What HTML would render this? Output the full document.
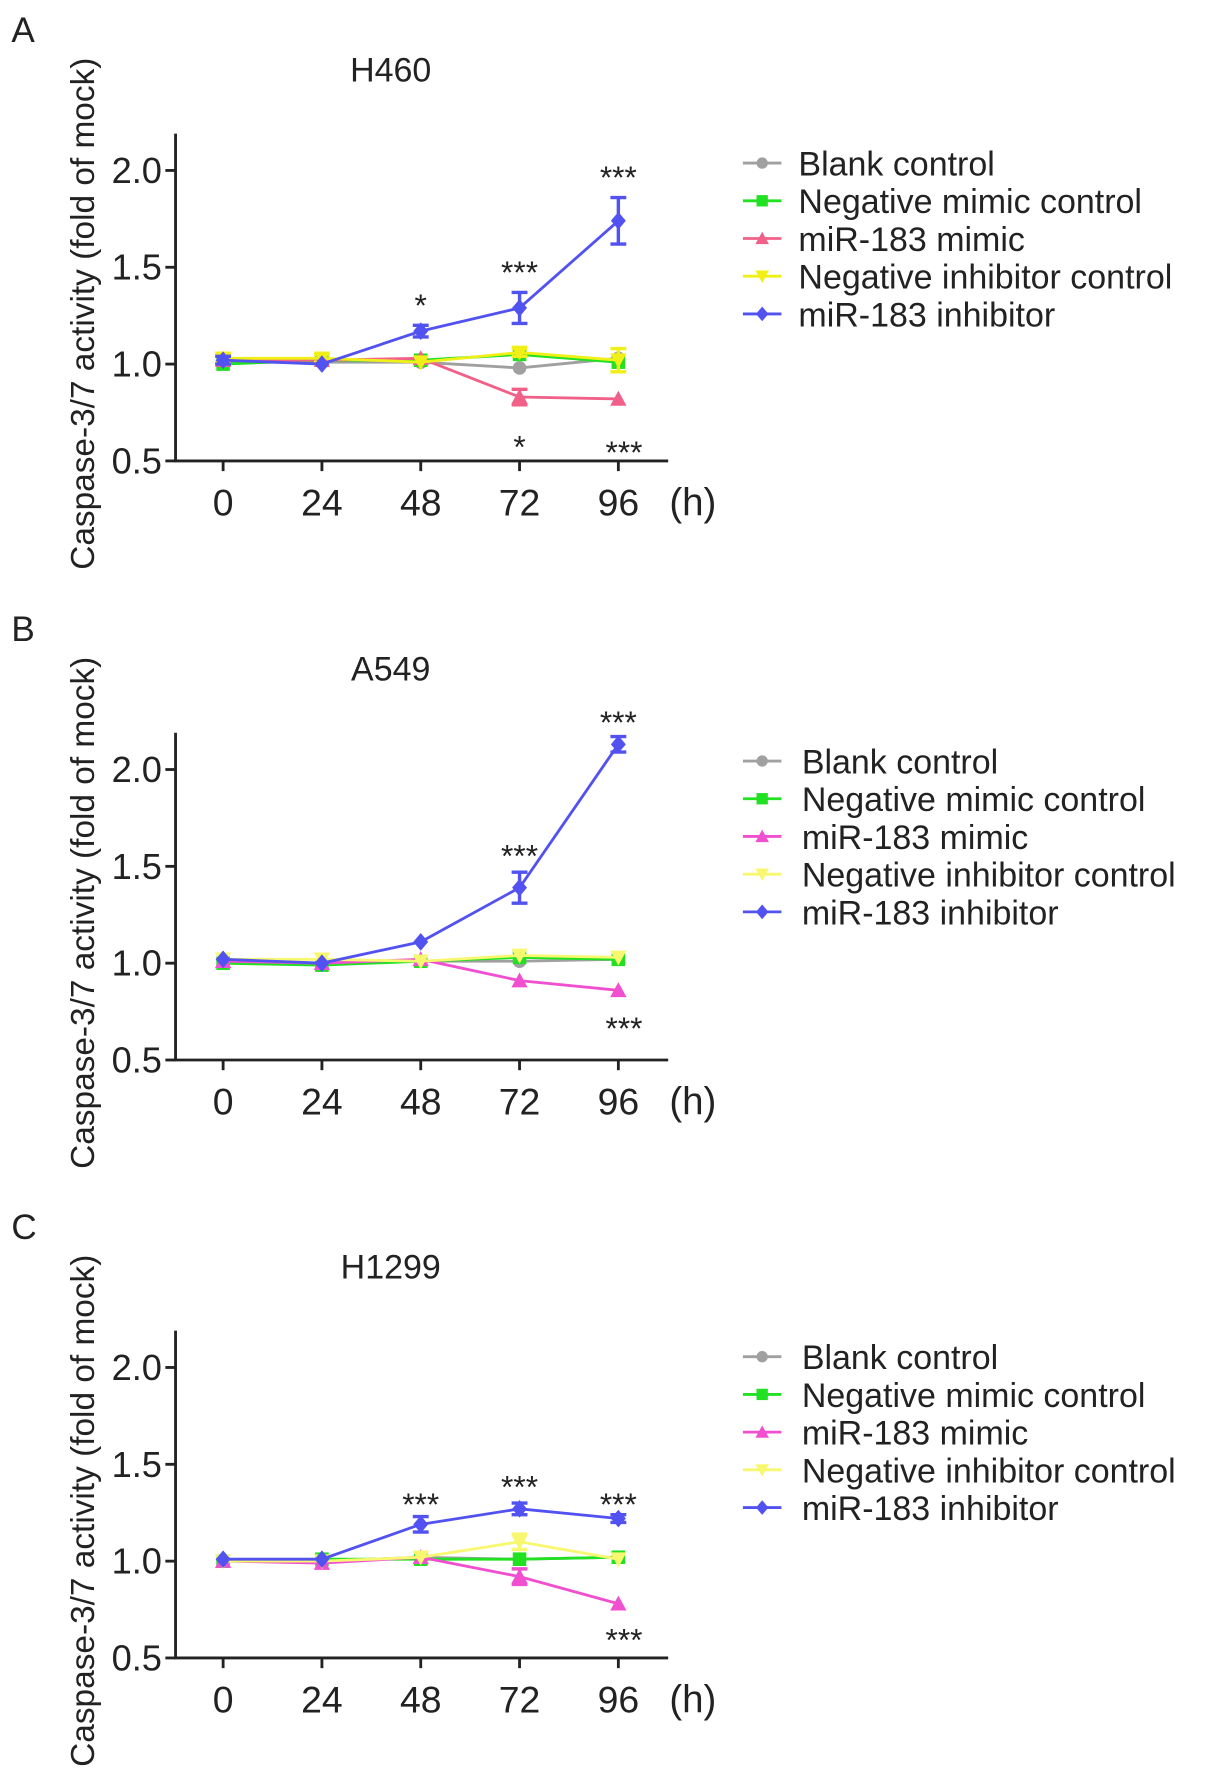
<!DOCTYPE html>
<html><head><meta charset="utf-8"><style>
html,body{margin:0;padding:0;background:#fff}
svg{display:block;font-family:"Liberation Sans",Arial,sans-serif}
</style></head><body>
<svg id="fig" width="1205" height="1778" viewBox="0 0 1064 1570" xmlns="http://www.w3.org/2000/svg"></svg>
<script>
const timepoints = [0, 24, 48, 72, 96];
const seriesNames = ["Blank control","Negative mimic control","miR-183 mimic","Negative inhibitor control","miR-183 inhibitor"];
const panelLetters = ["A","B","C"];
const panelTitles = ["H460","A549","H1299"];
const yTicks = [0.5, 1.0, 1.5, 2.0];
// panel A values
const aBlank = [1.01,1.01,1.01,0.98,1.03];
const aNegMimic = [1.00,1.02,1.02,1.05,1.01];
const aMimic = [1.02,1.02,1.03,0.83,0.82];
const aNegInh = [1.03,1.03,1.01,1.06,1.02];
const aInh = [1.02,1.00,1.17,1.29,1.74];
const aInhErr = [0.02,0.01,0.03,0.08,0.12];
const aMimicErr = [0.01,0.01,0.01,0.04,0.01];
const aNegInhErr = [0.02,0.02,0.01,0.02,0.06];
// panel B values
const bBlank = [1.01,1.00,1.01,1.01,1.02];
const bNegMimic = [1.00,0.99,1.01,1.03,1.02];
const bMimic = [1.01,1.00,1.02,0.91,0.86];
const bNegInh = [1.02,1.02,1.01,1.04,1.03];
const bInh = [1.02,1.00,1.11,1.39,2.13];
const bInhErr = [0.01,0.01,0.01,0.08,0.04];
const bMimicErr = [0.01,0.01,0.01,0.01,0.01];
const bNegInhErr = [0.01,0.01,0.01,0.01,0.01];
// panel C values
const cBlank = [1.00,1.00,1.02,1.01,1.02];
const cNegMimic = [1.00,1.01,1.01,1.01,1.02];
const cMimic = [1.00,0.99,1.02,0.92,0.78];
const cNegInh = [1.00,1.00,1.02,1.10,1.01];
const cInh = [1.01,1.01,1.19,1.27,1.22];
const cInhErr = [0.01,0.01,0.04,0.03,0.02];
const cMimicErr = [0.01,0.01,0.01,0.04,0.01];
const cNegInhErr = [0.01,0.01,0.01,0.04,0.01];
// significance annotations: [timepoint index, value position, label]
const aStars = [[2,1.33,"*"],[3,1.50,"***"],[4,1.99,"***"],[3,0.60,"*"],[4,0.57,"***"]];
const bStars = [[3,1.58,"***"],[4,2.27,"***"],[4,0.69,"***"]];
const cStars = [[2,1.32,"***"],[3,1.41,"***"],[4,1.32,"***"],[4,0.62,"***"]];

const panels = [
 {vals:[aBlank,aNegMimic,aMimic,aNegInh,aInh], errs:[null,null,aMimicErr,aNegInhErr,aInhErr], stars:aStars, off:0, colors:["#a0a0a0","#22e022","#f06088","#f0f018","#5252f0"]},
 {vals:[bBlank,bNegMimic,bMimic,bNegInh,bInh], errs:[null,null,bMimicErr,bNegInhErr,bInhErr], stars:bStars, off:529, colors:["#a0a0a0","#22e022","#f050d0","#f8f870","#5252f0"]},
 {vals:[cBlank,cNegMimic,cMimic,cNegInh,cInh], errs:[null,null,cMimicErr,cNegInhErr,cInhErr], stars:cStars, off:1057, colors:["#a0a0a0","#22e022","#f050d0","#f8f870","#5252f0"]}
];
const markers = ["circle","square","tri-up","tri-down","diamond"];
const NS="http://www.w3.org/2000/svg";
const svg=document.getElementById('fig');
function mk(tag,attrs,parent){const e=document.createElementNS(NS,tag);for(const k in attrs)e.setAttribute(k,attrs[k]);(parent||svg).appendChild(e);return e;}
function xScale(t){return 197+(t/24)*87.25;}
function yScale(v,off){return off+407-(v-0.5)*171;}
function marker(kind,x,y,color,g,s){
  let e;
  if(kind==="circle") e=mk('circle',{cx:x,cy:y,r:s},g);
  else if(kind==="square") e=mk('rect',{x:x-s,y:y-s,width:2*s,height:2*s},g);
  else if(kind==="tri-up") e=mk('polygon',{points:`${x},${y-s*1.2} ${x-s*1.2},${y+s} ${x+s*1.2},${y+s}`},g);
  else if(kind==="tri-down") e=mk('polygon',{points:`${x},${y+s*1.2} ${x-s*1.2},${y-s} ${x+s*1.2},${y-s}`},g);
  else e=mk('polygon',{points:`${x},${y-s*1.3} ${x+s*1.1},${y} ${x},${y+s*1.3} ${x-s*1.1},${y}`},g);
  e.setAttribute('fill',color);
  return e;
}
panels.forEach((p,pi)=>{
  const off=p.off;
  const g=mk('g',{});
  
  
  const L=mk('text',{x:10,y:off+37,'font-size':31,fill:'#222'},g); L.textContent=panelLetters[pi];
  
  
  const T=mk('text',{x:345,y:off+72,'font-size':30,'text-anchor':'middle',fill:'#222'},g); T.textContent=panelTitles[pi];
  
  
  const YT=mk('text',{x:0,y:0,'font-size':29.5,'text-anchor':'middle',fill:'#222',transform:`translate(83,${off+277}) rotate(-90)`},g);
  YT.textContent="Caspase-3/7 activity (fold of mock)";
  
  
  const ax=mk('path',{d:`M155,${off+118} V${off+407} H590`,stroke:'#222','stroke-width':2.5,fill:'none'},g);
  
  
  yTicks.forEach(v=>{
    const y=yScale(v,off);
    mk('line',{x1:146,x2:155,y1:y,y2:y,stroke:'#222','stroke-width':2.5},g);
    const t=mk('text',{x:143,y:y+11,'font-size':32,'text-anchor':'end',fill:'#222'},g); t.textContent=v.toFixed(1);
    
    
  });
  timepoints.forEach(tp=>{
    const x=xScale(tp);
    mk('line',{x1:x,x2:x,y1:off+407,y2:off+416,stroke:'#222','stroke-width':2.5},g);
    const t=mk('text',{x:x,y:off+455,'font-size':33,'text-anchor':'middle',fill:'#222'},g); t.textContent=tp;
    
    
  });
  const hl=mk('text',{x:591,y:off+455,'font-size':34,fill:'#222'},g); hl.textContent="(h)";
  
  
  p.vals.forEach((vals,si)=>{
    const col=p.colors[si];
    const sg=mk('g',{},g);
    
    
    const pts=vals.map((v,i)=>xScale(timepoints[i])+','+yScale(v,off)).join(' ');
    mk('polyline',{points:pts,fill:'none',stroke:col,'stroke-width':2.5},sg);
    const err=p.errs[si];
    vals.forEach((v,i)=>{
      const x=xScale(timepoints[i]);
      if(err&&err[i]>0.015){
        const y1=yScale(v+err[i],off),y2=yScale(v-err[i],off);
        mk('path',{d:`M${x},${y1}V${y2}M${x-7},${y1}H${x+7}M${x-7},${y2}H${x+7}`,stroke:col,'stroke-width':3,fill:'none'},sg);
      }
      const m=marker(markers[si],x,yScale(v,off),col,sg,6);
      
      
    });
  });
  p.stars.forEach(s=>{
    const t=mk('text',{x:xScale(timepoints[s[0]])+(s[1]<1&&s[0]===4?5:0),y:yScale(s[1],off)+14,'font-size':28,'text-anchor':'middle',fill:'#222'},g);
    t.textContent=s[2];
    
    
  });
  const lg=mk('g',{},g);
  
  
  const ly0=[144,672,1198][pi], lx=[705,708,708][pi];
  seriesNames.forEach((n,si)=>{
    const y=ly0+si*33.3;
    const e=mk('g',{},lg);
    
    
    mk('line',{x1:656,x2:690,y1:y,y2:y,stroke:p.colors[si],'stroke-width':2.5},e);
    marker(markers[si],673,y,p.colors[si],e,5);
    const t=mk('text',{x:lx,y:y+11,'font-size':30,fill:'#222'},e); t.textContent=n;
  });
});
</script>
</body></html>
